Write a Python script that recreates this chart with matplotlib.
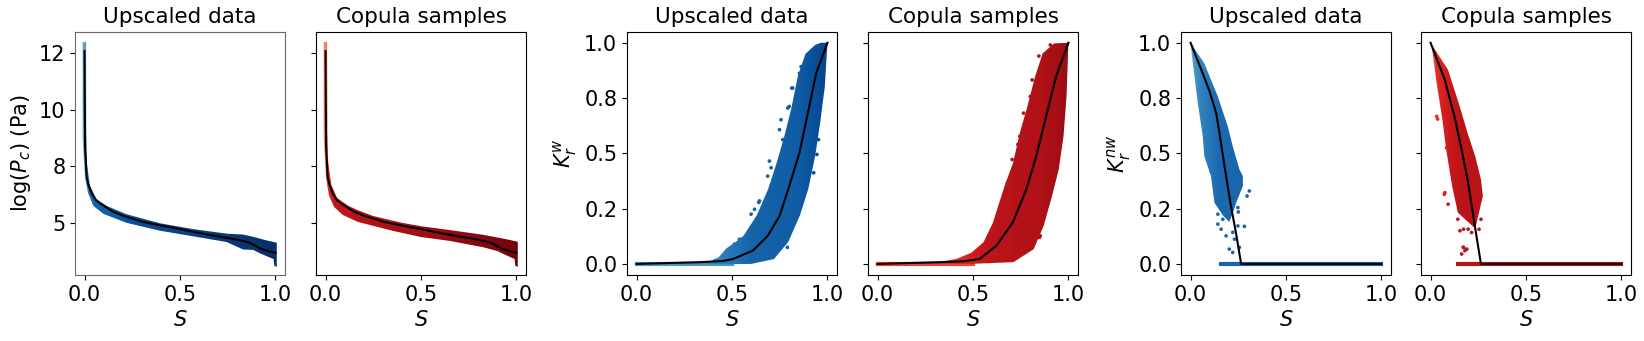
import numpy as np
import matplotlib.pyplot as plt
from matplotlib.patches import Polygon
from matplotlib.ticker import FormatStrFormatter

# ---- log(Pc) vs S ----
pc_med_s = [0.0, 0.001, 0.003, 0.011, 0.02, 0.037, 0.06, 0.081, 0.15, 0.2, 0.307, 0.4, 0.482,
            0.6, 0.657, 0.75, 0.831, 0.87, 0.919, 0.96, 1.0]
pc_med = [12.6, 10.5, 8.3, 7.04, 6.7, 6.3, 6.0, 5.86, 5.49, 5.32, 5.04, 4.88, 4.75,
          4.55, 4.46, 4.33, 4.2, 4.1, 3.87, 3.75, 3.67]
# envelope of the upscaled-data cloud (upper edge then lower edge)
pc_up_s = [-0.01, 0.008, 0.009, 0.013, 0.028, 0.063, 0.116, 0.22, 0.395, 0.57, 0.744, 0.831, 0.884, 0.954, 1.007]
pc_up = [13.0, 13.0, 9.0, 7.63, 6.65, 6.05, 5.75, 5.38, 4.98, 4.72, 4.52, 4.48, 4.38, 4.22, 4.12]
pc_lo_s = [1.007, 0.994, 0.99, 0.96, 0.919, 0.884, 0.831, 0.744, 0.57, 0.395, 0.22, 0.098, 0.046, 0.019, 0.002, -0.01, -0.01]
pc_lo = [3.05, 3.1, 3.4, 3.5, 3.65, 3.8, 3.82, 4.15, 4.4, 4.65, 5.0, 5.4, 5.75, 6.3, 7.0, 8.8, 12.5]
# envelope of the copula-sample cloud
pcc_up_s = [-0.01, 0.008, 0.01, 0.014, 0.03, 0.06, 0.12, 0.169, 0.25, 0.4, 0.5, 0.65, 0.825, 0.9, 0.96, 1.007]
pcc_up = [13.0, 13.0, 9.0, 7.7, 6.7, 6.1, 5.75, 5.56, 5.3, 5.0, 4.85, 4.68, 4.47, 4.35, 4.25, 4.16]
pcc_lo_s = [1.007, 0.994, 0.99, 0.95, 0.9, 0.825, 0.65, 0.5, 0.35, 0.169, 0.09, 0.045, 0.018, 0.002, -0.01, -0.01]
pcc_lo = [3.05, 3.1, 3.4, 3.55, 3.75, 3.92, 4.2, 4.37, 4.65, 5.04, 5.35, 5.7, 6.2, 7.0, 8.8, 12.5]

# ---- Krw vs S ----
krw_med_s = [0.0, 0.33, 0.45, 0.504, 0.609, 0.687, 0.749, 0.80, 0.853, 0.897, 0.941, 1.0]
krw_med = [0.0, 0.008, 0.013, 0.022, 0.06, 0.127, 0.217, 0.352, 0.502, 0.68, 0.862, 1.0]
krw_up_s = [0.0, 0.30, 0.38, 0.43, 0.47, 0.52, 0.56, 0.63, 0.69, 0.735, 0.775, 0.81, 0.845, 0.885, 0.935, 0.965, 1.0]
krw_up = [0.004, 0.006, 0.012, 0.03, 0.07, 0.10, 0.127, 0.22, 0.34, 0.46, 0.58, 0.70, 0.85, 0.95, 0.99, 1.0, 1.0]
krw_lo_s = [1.0, 0.986, 0.962, 0.936, 0.9, 0.856, 0.795, 0.72, 0.6, 0.0]
krw_lo = [1.0, 0.80, 0.64, 0.49, 0.34, 0.22, 0.10, 0.022, 0.0, -0.004]
krw_out_s = [0.757, 0.749, 0.792, 0.766, 0.696, 0.705, 0.687, 0.696, 0.640, 0.618, 0.600, 0.539, 0.574,
             0.513, 0.818, 0.853, 0.644, 0.80, 0.813, 0.862, 0.945, 0.928, 0.953, 0.79]
krw_out = [0.652, 0.607, 0.705, 0.562, 0.465, 0.435, 0.397, 0.322, 0.278, 0.247, 0.225, 0.112, 0.127,
           0.090, 0.795, 0.862, 0.285, 0.712, 0.795, 0.892, 0.495, 0.412, 0.562, 0.075]

krwc_med_s = [0.0, 0.33, 0.45, 0.534, 0.622, 0.709, 0.779, 0.831, 0.883, 0.935, 1.0]
krwc_med = [0.0, 0.008, 0.012, 0.022, 0.082, 0.188, 0.337, 0.487, 0.667, 0.847, 1.0]
krwc_up_s = [0.0, 0.30, 0.41, 0.49, 0.555, 0.605, 0.665, 0.71, 0.745, 0.785, 0.825, 0.865, 0.925, 1.0]
krwc_up = [0.004, 0.006, 0.022, 0.05, 0.098, 0.188, 0.352, 0.457, 0.592, 0.712, 0.847, 0.952, 0.997, 1.0]
krwc_lo_s = [1.0, 0.99, 0.974, 0.949, 0.914, 0.87, 0.818, 0.712, 0.48, 0.0]
krwc_lo = [1.0, 0.757, 0.577, 0.427, 0.307, 0.172, 0.067, 0.008, 0.0, -0.004]
krwc_out_s = [0.68, 0.745, 0.765, 0.80, 0.81, 0.845, 0.905, 0.62, 0.645, 0.852, 0.966, 0.735, 0.705, 0.848, 0.668]
krwc_out = [0.367, 0.577, 0.682, 0.757, 0.832, 0.94, 0.99, 0.188, 0.233, 0.127, 0.607, 0.54, 0.472, 0.12, 0.30]

# ---- Krnw vs S ----
krnw_med_s = [0.0, 0.06, 0.10, 0.135, 0.15, 0.18, 0.21, 0.24, 0.265, 1.0]
krnw_med = [1.0, 0.87, 0.78, 0.68, 0.60, 0.43, 0.27, 0.13, 0.0, 0.0]
krnw_poly_s = [0.0, 0.072, 0.143, 0.195, 0.221, 0.256, 0.274, 0.274, 0.239, 0.221, 0.203, 0.169,
               0.125, 0.107, 0.072, 0.064, 0.038, 0.012]
krnw_poly = [1.0, 0.907, 0.757, 0.622, 0.532, 0.427, 0.397, 0.352, 0.277, 0.230, 0.19, 0.22,
             0.277, 0.397, 0.487, 0.577, 0.727, 0.907]
krnw_out_s = [0.308, 0.296, 0.248, 0.25, 0.143, 0.169, 0.248, 0.282, 0.221, 0.186, 0.23, 0.203,
              0.221, 0.256, 0.143, 0.16, 0.107]
krnw_out = [0.33, 0.307, 0.255, 0.235, 0.225, 0.202, 0.172, 0.17, 0.143, 0.127, 0.112, 0.067,
            0.052, 0.075, 0.18, 0.157, 0.42]
krnw_zero = [0.16, 1.0]

krnwc_med_s = [0.0, 0.075, 0.127, 0.163, 0.197, 0.232, 0.264, 1.0]
krnwc_med = [1.0, 0.832, 0.66, 0.517, 0.367, 0.172, 0.0, 0.0]
krnwc_poly_s = [0.0, 0.092, 0.153, 0.194, 0.234, 0.264, 0.274, 0.254, 0.234, 0.143, 0.113, 0.082,
                0.062, 0.032, 0.007]
krnwc_poly = [1.0, 0.877, 0.712, 0.592, 0.487, 0.382, 0.307, 0.232, 0.16, 0.232, 0.352, 0.517,
              0.652, 0.817, 0.982]
krnwc_out_s = [0.072, 0.092, 0.032, 0.143, 0.173, 0.173, 0.19, 0.163, 0.254, 0.264, 0.037, 0.075,
               0.084, 0.171, 0.18, 0.154, 0.197, 0.215]
krnwc_out = [0.315, 0.27, 0.667, 0.202, 0.157, 0.075, 0.067, 0.045, 0.157, 0.202, 0.655, 0.322,
             0.525, 0.075, 0.06, 0.15, 0.157, 0.142]
krnwc_zero = [0.143, 1.0]

PC_LIM = (2.69, 13.46)
K_LIM = (-0.05, 1.05)


def cloud(ax, xs, ys, cmap, s_stops, t_stops, ylim):
    poly = Polygon(np.column_stack([xs, ys]), closed=True, fc='none', ec='none')
    ax.add_patch(poly)
    grid = np.linspace(-0.05, 1.05, 400)
    t = np.interp(grid, s_stops, t_stops)
    im = ax.imshow(t[np.newaxis, :], cmap=cmap, vmin=0, vmax=1, aspect='auto', origin='lower',
                   extent=[-0.05, 1.05, ylim[0], ylim[1]], interpolation='bilinear', zorder=2)
    im.set_clip_path(poly)


def dots(ax, xs, ys, cmap, s_stops, t_stops):
    ax.scatter(xs, ys, c=np.interp(xs, s_stops, t_stops), cmap=cmap, vmin=0, vmax=1,
               s=7, linewidths=0, zorder=2)


fig = plt.figure(figsize=(16.44, 3.41), dpi=100)
lefts = [75, 316, 627, 868, 1181, 1421]
axs = [fig.add_axes([l / 1644, 1 - 275 / 341, 210 / 1644, 243.3 / 341]) for l in lefts]

blue, red = plt.cm.Blues, plt.cm.Reds

# Pc panels
st_pc = ([0, 0.01, 0.05, 0.3, 1.0], [0.55, 0.7, 0.8, 0.9, 1.0])
cloud(axs[0], pc_up_s + pc_lo_s, pc_up + pc_lo, blue, *st_pc, PC_LIM)
axs[0].plot(pc_med_s, pc_med, color='k', lw=1.5, zorder=3)
st_pcr = ([0, 0.01, 0.05, 0.3, 1.0], [0.4, 0.65, 0.78, 0.85, 0.97])
cloud(axs[1], pcc_up_s + pcc_lo_s, pcc_up + pcc_lo, red, *st_pcr, PC_LIM)
axs[1].plot(pc_med_s, pc_med, color='k', lw=1.5, zorder=3)

# Krw panels
st_kw = ([0, 0.45, 0.6, 0.85, 1.0], [0.55, 0.7, 0.8, 0.83, 0.92])
axs[2].plot([0, 0.5], [0, 0], color=blue(0.6), lw=3, zorder=2)
cloud(axs[2], krw_up_s + krw_lo_s, krw_up + krw_lo, blue, *st_kw, K_LIM)
dots(axs[2], krw_out_s, krw_out, blue, *st_kw)
axs[2].plot(krw_med_s, krw_med, color='k', lw=1.5, zorder=3)
st_kwr = ([0, 0.45, 0.6, 0.85, 1.0], [0.55, 0.7, 0.8, 0.84, 0.9])
axs[3].plot([0, 0.5], [0, 0], color=red(0.6), lw=3, zorder=2)
cloud(axs[3], krwc_up_s + krwc_lo_s, krwc_up + krwc_lo, red, *st_kwr, K_LIM)
dots(axs[3], krwc_out_s, krwc_out, red, *st_kwr)
axs[3].plot(krwc_med_s, krwc_med, color='k', lw=1.5, zorder=3)

# Krnw panels
st_kn = ([0, 0.05, 0.15, 0.3, 1.0], [0.55, 0.68, 0.78, 0.8, 0.8])
axs[4].plot(krnw_zero, [0, 0], color=blue(0.8), lw=3, zorder=2)
cloud(axs[4], krnw_poly_s, krnw_poly, blue, *st_kn, K_LIM)
dots(axs[4], krnw_out_s, krnw_out, blue, *st_kn)
axs[4].plot(krnw_med_s, krnw_med, color='k', lw=1.5, zorder=3)
st_knr = ([0, 0.05, 0.15, 0.3, 1.0], [0.6, 0.7, 0.8, 0.82, 0.82])
axs[5].plot(krnwc_zero, [0, 0], color=red(0.82), lw=3, zorder=2)
cloud(axs[5], krnwc_poly_s, krnwc_poly, red, *st_knr, K_LIM)
dots(axs[5], krnwc_out_s, krnwc_out, red, *st_knr)
axs[5].plot(krnwc_med_s, krnwc_med, color='k', lw=1.5, zorder=3)

for i, ax in enumerate(axs):
    ax.set_xlim(-0.05, 1.05)
    ax.set_xticks([0, 0.5, 1.0])
    ax.set_xlabel('$S$', fontsize=15)
    ax.set_title('Upscaled data' if i % 2 == 0 else 'Copula samples', fontsize=15.5)
    ax.tick_params(labelsize=15)
    if i < 2:
        ax.set_ylim(*PC_LIM)
        ax.set_yticks([5, 7.5, 10, 12.5])
        ax.yaxis.set_major_formatter(FormatStrFormatter('%.0f'))
    else:
        ax.set_ylim(*K_LIM)
        ax.set_yticks([0, 0.25, 0.5, 0.75, 1.0])
        ax.yaxis.set_major_formatter(FormatStrFormatter('%.1f'))
    if i % 2 == 1:
        ax.set_yticklabels([])

for sp in axs[0].spines.values():
    sp.set_color('dimgray')

axs[0].set_ylabel('log($P_c$) (Pa)', fontsize=15)
axs[2].set_ylabel('$K_r^w$', fontsize=15)
axs[4].set_ylabel('$K_r^{nw}$', fontsize=15)

fig.savefig('out.png', dpi=100)
